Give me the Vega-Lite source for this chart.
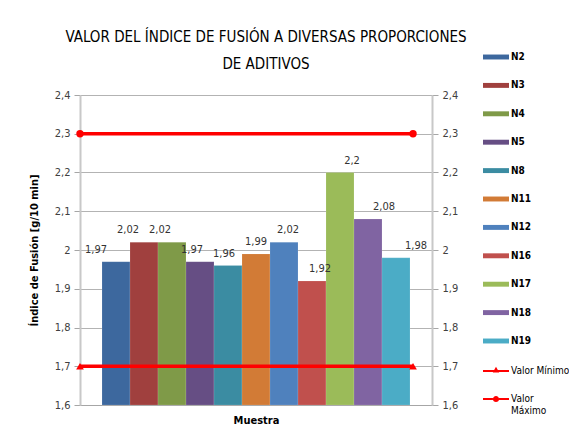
{
  "$schema": "https://vega.github.io/schema/vega-lite/v6.json",
  "width": 352,
  "height": 310,
  "autosize": "none",
  "padding": {"left": 80, "top": 95, "right": 137, "bottom": 36},
  "background": "white",
  "title": {
    "text": ["VALOR DEL ÍNDICE DE FUSIÓN A DIVERSAS PROPORCIONES", "DE ADITIVOS"],
    "font": "DejaVu Sans Condensed, sans-serif",
    "fontSize": 15,
    "fontWeight": "normal",
    "color": "#000000",
    "lineHeight": 27,
    "anchor": "middle",
    "frame": "group",
    "dx": 10,
    "offset": -28
  },
  "datasets": {
    "barras": [
      {"serie": "N2", "valor": 1.97},
      {"serie": "N3", "valor": 2.02},
      {"serie": "N4", "valor": 2.02},
      {"serie": "N5", "valor": 1.97},
      {"serie": "N8", "valor": 1.96},
      {"serie": "N11", "valor": 1.99},
      {"serie": "N12", "valor": 2.02},
      {"serie": "N16", "valor": 1.92},
      {"serie": "N17", "valor": 2.2},
      {"serie": "N18", "valor": 2.08},
      {"serie": "N19", "valor": 1.98}
    ],
    "limites": [
      {"serie": "Valor Mínimo", "pos": 0, "valor": 1.7},
      {"serie": "Valor Mínimo", "pos": 1, "valor": 1.7},
      {"serie": "Valor Máximo", "pos": 0, "valor": 2.3},
      {"serie": "Valor Máximo", "pos": 1, "valor": 2.3}
    ]
  },
  "layer": [
    {
      "data": {"name": "barras"},
      "mark": {"type": "bar", "stroke": "#ffffff", "strokeOpacity": 0.25, "strokeWidth": 0.5},
      "encoding": {
        "x": {
          "field": "serie", "type": "nominal", "sort": null,
          "scale": {"domain": ["N2","N3","N4","N5","N8","N11","N12","N16","N17","N18","N19"], "paddingInner": 0, "paddingOuter": 0.786},
          "axis": {"labels": false, "ticks": false, "title": "Muestra", "domainColor": "#a6a6a6", "domainWidth": 1, "titleFont": "DejaVu Sans Condensed, sans-serif", "titleFontSize": 11, "titleFontWeight": "bold", "titleColor": "#000000", "titlePadding": 9}
        },
        "y": {
          "field": "valor", "type": "quantitative",
          "scale": {"domain": [1.6, 2.4], "zero": false, "nice": false},
          "axis": {
            "orient": "left",
            "values": [1.6, 1.7, 1.8, 1.9, 2.0, 2.1, 2.2, 2.3, 2.4],
            "format": ".1~f",
            "grid": true, "gridColor": "#b3b3b3", "gridWidth": 1,
            "domainColor": "#c8c8c8", "domainWidth": 2,
            "tickColor": "#a6a6a6", "tickSize": 6,
            "labelFont": "DejaVu Sans Condensed, sans-serif",
            "labelFontSize": 11, "labelColor": "#404040", "labelPadding": 4,
            "title": "Índice de Fusión [g/10 min]",
            "titleFont": "DejaVu Sans Condensed, sans-serif",
            "titleFontSize": 11, "titleFontWeight": "bold", "titleColor": "#000000", "titlePadding": 15
          }
        },
        "y2": {"datum": 1.6},
        "color": {
          "field": "serie", "type": "nominal",
          "scale": {
            "domain": ["N2","N3","N4","N5","N8","N11","N12","N16","N17","N18","N19"],
            "range": ["#3D689E","#A0403E","#7F9A48","#664E84","#3B8CA2","#D27B36","#4F81BD","#C0504D","#9BBB59","#8064A2","#4BACC6"]
          },
          "legend": {
            "orient": "none", "legendX": 403, "legendY": -51,
            "title": null, "padding": 0,
            "symbolType": "M-1,-0.19H1V0.19H-1Z",
            "symbolSize": 676, "rowPadding": 10.4, "symbolStrokeWidth": 0,
            "labelFont": "DejaVu Sans Condensed, sans-serif",
            "labelFontSize": 10, "labelFontWeight": "bold", "labelColor": "#000000", "labelOffset": 2, "labelLimit": 80
          }
        }
      }
    },
    {
      "data": {"name": "barras"},
      "mark": {"type": "text", "baseline": "bottom", "dy": -7, "font": "DejaVu Sans Condensed, sans-serif", "fontSize": 11, "color": "#333333"},
      "encoding": {
        "x": {
          "field": "serie", "type": "nominal", "sort": null,
          "scale": {"domain": ["N2","N3","N4","N5","N8","N11","N12","N16","N17","N18","N19"], "paddingInner": 0, "paddingOuter": 0.786},
          "axis": null
        },
        "y": {"field": "valor", "type": "quantitative", "axis": null},
        "text": {"field": "valor", "type": "quantitative", "format": ".2~f"}
      }
    },
    {
      "data": {"name": "limites"},
      "mark": {"type": "line", "strokeWidth": 3.5, "color": "#FF0000"},
      "encoding": {
        "x": {"field": "pos", "type": "quantitative", "scale": {"domain": [0, 1.057], "nice": false, "zero": false}, "axis": null},
        "y": {
          "field": "valor", "type": "quantitative",
          "axis": {
            "orient": "right",
            "values": [1.6, 1.7, 1.8, 1.9, 2.0, 2.1, 2.2, 2.3, 2.4],
            "format": ".1~f",
            "grid": false,
            "domainColor": "#c8c8c8", "domainWidth": 2,
            "tickColor": "#a6a6a6", "tickSize": 6,
            "labelFont": "DejaVu Sans Condensed, sans-serif",
            "labelFontSize": 11, "labelColor": "#404040", "labelPadding": 4,
            "title": null
          }
        },
        "detail": {"field": "serie"}
      }
    },
    {
      "data": {"name": "limites"},
      "transform": [{"filter": "datum.serie === 'Valor Mínimo'"}],
      "mark": {"type": "point", "filled": true, "opacity": 1, "size": 60, "shape": "triangle-up", "color": "#FF0000"},
      "encoding": {
        "x": {"field": "pos", "type": "quantitative", "scale": {"domain": [0, 1.057], "nice": false, "zero": false}, "axis": null},
        "y": {"field": "valor", "type": "quantitative", "axis": null}
      }
    },
    {
      "data": {"name": "limites"},
      "transform": [{"filter": "datum.serie === 'Valor Máximo'"}],
      "mark": {"type": "point", "filled": true, "opacity": 1, "size": 55, "shape": "circle", "color": "#FF0000"},
      "encoding": {
        "x": {"field": "pos", "type": "quantitative", "scale": {"domain": [0, 1.057], "nice": false, "zero": false}, "axis": null},
        "y": {"field": "valor", "type": "quantitative", "axis": null}
      }
    },
    {
      "data": {"name": "limites"},
      "transform": [{"filter": "false"}],
      "mark": {"type": "point", "filled": true, "opacity": 1, "color": "#FF0000"},
      "encoding": {
        "x": {"field": "pos", "type": "quantitative", "scale": {"domain": [0, 1.057], "nice": false, "zero": false}, "axis": null},
        "y": {"field": "valor", "type": "quantitative", "axis": null},
        "shape": {
          "field": "serie", "type": "nominal",
          "scale": {
            "domain": ["Valor Mínimo", "Valor Máximo"],
            "range": [
              "M-1,-0.07H1V0.07H-1Z M-0.25,0.12L0,-0.33L0.25,0.12Z",
              "M-1,-0.07H-0.23V0.07H-1Z M0.23,-0.07H1V0.07H0.23Z M-0.24,0A0.24,0.24 0 1,0 0.24,0A0.24,0.24 0 1,0 -0.24,0Z"
            ]
          },
          "legend": {
            "orient": "none", "legendX": 403, "legendY": 263,
            "title": null, "padding": 0,
            "symbolSize": 676, "rowPadding": 10, "symbolStrokeWidth": 0,
            "symbolFillColor": "#FF0000",
            "labelFont": "DejaVu Sans Condensed, sans-serif",
            "labelFontSize": 10, "labelFontWeight": "normal", "labelColor": "#000000", "labelOffset": 2, "labelLimit": 80,
            "labelExpr": "datum.label === 'Valor Máximo' ? ['Valor', 'Máximo'] : datum.label",
            "encode": {
              "labels": {
                "lineHeight": {"value": 15},
                "dy": {"condition": {"test": "datum.value === 'Valor Máximo'", "value": 7}, "value": 0}
              }
            }
          }
        }
      }
    }
  ],
  "resolve": {
    "scale": {"x": "independent"},
    "axis": {"x": "independent", "y": "independent"}
  },
  "config": {
    "locale": {"number": {"decimal": ",", "thousands": ".", "grouping": [3], "currency": ["", " €"]}},
    "view": {"stroke": null}
  }
}
